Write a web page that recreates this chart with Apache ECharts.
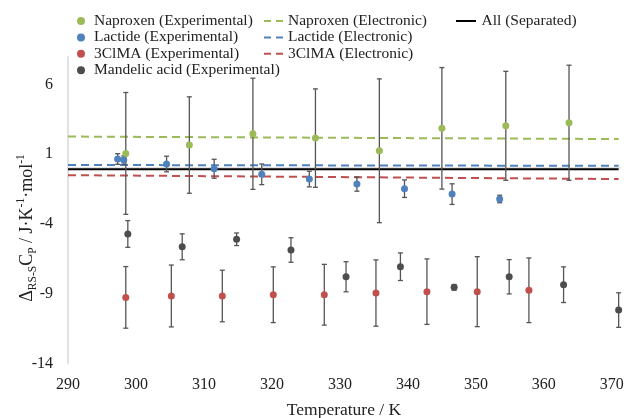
<!DOCTYPE html>
<html>
<head>
<meta charset="utf-8">
<script src="https://cdn.jsdelivr.net/npm/echarts@6/dist/echarts.min.js"></script>
<style>html,body{margin:0;padding:0;background:#fff}#c{width:627px;height:418px}</style>
</head>
<body>
<div id="c"></div>
<script>
// ---- data ----
var naproxenT   = [298.5, 307.85, 317.2, 326.4, 335.8, 345.0, 354.4, 363.7];
var naproxenY   = [1.06, 1.66, 2.47, 2.16, 1.25, 2.86, 3.04, 3.26];
var naproxenErr = [4.37, 3.46, 3.99, 3.53, 5.16, 4.36, 3.91, 4.13];

var lactideT   = [297.3, 298.2, 304.5, 311.5, 318.5, 325.5, 332.5, 339.5, 346.5, 353.5];
var lactideY   = [0.66, 0.58, 0.30, -0.04, -0.44, -0.78, -1.14, -1.47, -1.86, -2.21];
var lactideErr = [0.38, 0.30, 0.56, 0.68, 0.74, 0.56, 0.51, 0.63, 0.74, 0.27];

var clmaT   = [298.5, 305.2, 312.7, 320.2, 327.7, 335.3, 342.8, 350.2, 357.8];
var clmaY   = [-9.27, -9.17, -9.17, -9.08, -9.08, -8.96, -8.86, -8.86, -8.76];
var clmaErr = [2.21, 2.22, 1.85, 2.00, 2.18, 2.38, 2.35, 2.51, 2.32];

var mandelicT   = [298.8, 306.8, 314.8, 322.8, 330.9, 338.9, 346.8, 354.9, 362.9, 371.0];
var mandelicY   = [-4.72, -5.64, -5.10, -5.87, -7.79, -7.07, -8.55, -7.79, -8.36, -10.18];
var mandelicErr = [0.96, 0.93, 0.45, 0.88, 1.08, 0.99, 0.20, 1.23, 1.28, 1.24];

var lineT        = [290, 371];
var naproxenElec = [2.27, 2.09];
var lactideElec  = [0.23, 0.17];
var clmaElec     = [-0.50, -0.78];
var allSep       = [-0.08, -0.08];

var xTicks = [290, 300, 310, 320, 330, 340, 350, 360, 370];
var yTicks = [-14, -9, -4, 1, 6];

// ---- build ----
var FONT = 'Liberation Serif';
function pts(t, y) { return t.map(function (v, i) { return [v, y[i]]; }); }
function errPts(t, y, e) { return t.map(function (v, i) { return [v, y[i], e[i]]; }); }
function errRender(params, api) {
  var x = api.value(0), y = api.value(1), e = api.value(2);
  var hi = api.coord([x, y + e]), lo = api.coord([x, y - e]);
  var w = 2.5;
  var st = { stroke: '#555555', lineWidth: 1.3 };
  return { type: 'group', children: [
    { type: 'line', shape: { x1: hi[0], y1: hi[1], x2: lo[0], y2: lo[1] }, style: st },
    { type: 'line', shape: { x1: hi[0] - w, y1: hi[1], x2: hi[0] + w, y2: hi[1] }, style: st },
    { type: 'line', shape: { x1: lo[0] - w, y1: lo[1], x2: lo[0] + w, y2: lo[1] }, style: st }
  ]};
}
function errSeries(t, y, e) {
  return { type: 'custom', renderItem: errRender, data: errPts(t, y, e), z: 3, silent: true,
           encode: { x: 0, y: 1 } };
}
function lineSeries(name, vals, color, type) {
  return { name: name, type: 'line', data: pts(lineT, vals), symbol: 'none', z: 2,
           lineStyle: { color: color, width: 2, type: type }, itemStyle: { color: color } };
}
function scatSeries(name, t, y, color) {
  return { name: name, type: 'scatter', data: pts(t, y), symbol: 'circle', symbolSize: 7, z: 4,
           itemStyle: { color: color, opacity: 1 } };
}
var GREEN = '#9BBB59', BLUE = '#4F81BD', RED = '#C0504D', GRAY = '#4d4d4d';
var dash = [8, 5];
var DASH_ICON = 'path://M0,0H7V2H0Z M12,0H19V2H12Z';
var LINE_ICON = 'path://M0,0H20V2H0Z';

var legendText = { fontFamily: FONT, fontSize: 15.5, lineHeight: 15.5, color: '#222' };

var option = {
  animation: false,
  grid: { left: 68, right: 7, top: 56.7, bottom: 54.7, containLabel: false, outerBoundsMode: 'none' },
  legend: [
    { left: 77, top: 13, padding: 0, orient: 'vertical', itemWidth: 16, itemHeight: 8, itemGap: 0.4, icon: 'circle',
      textStyle: legendText,
      data: ['Naproxen (Experimental)', 'Lactide (Experimental)', '3ClMA (Experimental)', 'Mandelic acid (Experimental)'] },
    { left: 264, top: 13, padding: 0, orient: 'vertical', itemWidth: 19, itemHeight: 2, itemGap: 0.4, icon: DASH_ICON,
      textStyle: legendText,
      data: ['Naproxen (Electronic)', 'Lactide (Electronic)', '3ClMA (Electronic)'] },
    { left: 456, top: 13, padding: 0, orient: 'vertical', itemWidth: 21, itemHeight: 2, icon: LINE_ICON,
      textStyle: legendText,
      data: ['All (Separated)'] }
  ],
  xAxis: {
    type: 'value', min: 290, max: 371.2, interval: 10,
    name: 'Temperature / K', nameLocation: 'middle', nameGap: 38, nameMoveOverlap: false,
    nameTextStyle: { fontFamily: FONT, fontSize: 17.5, color: '#222' },
    axisLine: { show: true, lineStyle: { color: '#d9d9d9', width: 1.5 } },
    axisTick: { show: false }, splitLine: { show: false },
    axisLabel: { fontFamily: FONT, fontSize: 16, color: '#222', margin: 13,
      formatter: function (v) { return xTicks.indexOf(Math.round(v * 100) / 100) >= 0 ? String(v) : ''; } }
  },
  yAxis: {
    type: 'value', min: -14, max: 8, interval: 5,
    name: '{n|Δ}{b|RS-S}{n|C}{b|P}{n| / J·K}{t|-1}{n|·mol}{t|-1}',
    nameLocation: 'middle', nameGap: 29, nameMoveOverlap: false,
    nameTextStyle: { fontFamily: FONT, fontSize: 18, color: '#222', padding: [0, 36, 0, 0],
      rich: {
        n: { fontFamily: FONT, fontSize: 18, lineHeight: 24, color: '#222' },
        b: { fontFamily: FONT, fontSize: 11.5, lineHeight: 11, verticalAlign: 'bottom', color: '#222' },
        t: { fontFamily: FONT, fontSize: 11.5, lineHeight: 11, verticalAlign: 'top', color: '#222' }
      } },
    axisLine: { show: true, lineStyle: { color: '#d9d9d9', width: 1.5 } },
    axisTick: { show: false }, splitLine: { show: false },
    axisLabel: { fontFamily: FONT, fontSize: 16, color: '#222', margin: 15,
      formatter: function (v) { return yTicks.indexOf(Math.round(v)) >= 0 && Math.abs(v - Math.round(v)) < 1e-6 ? String(v) : ''; } }
  },
  series: [
    lineSeries('Naproxen (Electronic)', naproxenElec, GREEN, dash),
    lineSeries('Lactide (Electronic)', lactideElec, BLUE, dash),
    lineSeries('3ClMA (Electronic)', clmaElec, RED, dash),
    lineSeries('All (Separated)', allSep, '#000000', 'solid'),
    errSeries(naproxenT, naproxenY, naproxenErr),
    errSeries(lactideT, lactideY, lactideErr),
    errSeries(clmaT, clmaY, clmaErr),
    errSeries(mandelicT, mandelicY, mandelicErr),
    scatSeries('Naproxen (Experimental)', naproxenT, naproxenY, GREEN),
    scatSeries('Lactide (Experimental)', lactideT, lactideY, BLUE),
    scatSeries('3ClMA (Experimental)', clmaT, clmaY, RED),
    scatSeries('Mandelic acid (Experimental)', mandelicT, mandelicY, GRAY)
  ]
};
var chart = echarts.init(document.getElementById('c'), null, { renderer: 'canvas' });
chart.setOption(option);
</script>
</body>
</html>
